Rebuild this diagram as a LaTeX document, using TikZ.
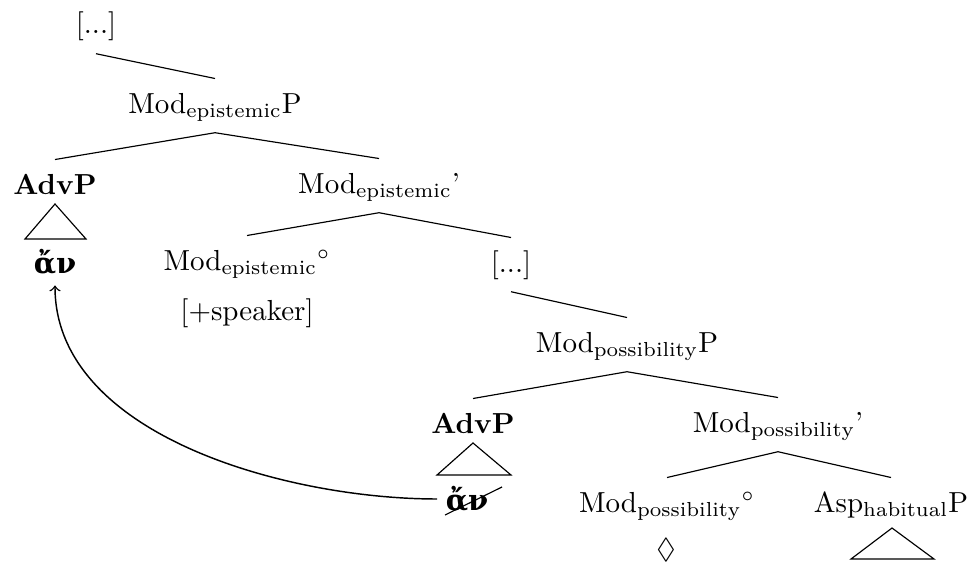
\documentclass[tikz,border=0pt]{standalone}
\usepackage{amssymb}
\usepackage{fontspec}
\newfontfamily\greekfont[Script=Greek]{DejaVu Serif}
\usetikzlibrary{arrows}

\begin{document}
\begin{tikzpicture}[x=0.345pt,y=-0.345pt,
  lbl/.style={inner sep=0pt, text height=11.7pt, text depth=6.6pt, anchor=base},
  grk/.style={inner xsep=2.8pt, inner ysep=0pt, text height=11.7pt, text depth=4.1pt, anchor=base, font=\greekfont\bfseries},
  branch/.style={line width=0.4pt},
  movement/.style={line width=0.5pt, ->}]
\useasboundingbox (0,0) rectangle (971,563);

% upper clause
\node[lbl] (dotsA)   at (96,34)   {[...]};
\node[lbl] (mep)     at (215,113) {Mod$_{\mathrm{epistemic}}$P};
\node[lbl] (advA)    at (55,194)  {\textbf{AdvP}};
\node[lbl] (mepbar)  at (379,193) {Mod$_{\mathrm{epistemic}}$'};
\node[lbl] (mephead) at (247,270) {Mod$_{\mathrm{epistemic}}{}^{\circ}$};
\node[lbl] (speaker) at (247,320) {[+speaker]};
\node[lbl] (dotsB)   at (511,272) {[...]};
\node[grk] (anA)     at (55,273)  {ἄν};

% lower clause
\node[lbl] (mpp)     at (627,352) {Mod$_{\mathrm{possibility}}$P};
\node[lbl] (advB)    at (473,433) {\textbf{AdvP}};
\node[lbl] (mpbar)   at (778,432) {Mod$_{\mathrm{possibility}}$'};
\node[grk] (anB)     at (467,510) {ἄν};
\node[lbl] (mphead)  at (667,512) {Mod$_{\mathrm{possibility}}{}^{\circ}$};
\node[lbl] (asp)     at (891,512) {Asp$_{\mathrm{habitual}}$P};
\node[inner sep=0pt] (dia) at (666,550) {$\lozenge$};

% branches
\draw[branch] (dotsA.south) -- (mep.north);
\draw[branch] (mep.south) -- (advA.north);
\draw[branch] (mep.south) -- (mepbar.north);
\draw[branch] (mepbar.south) -- (mephead.north);
\draw[branch] (mepbar.south) -- (dotsB.north);
\draw[branch] (dotsB.south) -- (mpp.north);
\draw[branch] (mpp.south) -- (advB.north);
\draw[branch] (mpp.south) -- (mpbar.north);
\draw[branch] (mpbar.south) -- (mphead.north);
\draw[branch] (mpbar.south) -- (asp.north);

% roofs over phrasal constituents
\draw[branch] ([shift={(0,10)}]advA.base) -- ++(-30,35) -- ++(61,0) -- cycle;
\draw[branch] ([shift={(0,10)}]advB.base) -- ++(-36,32) -- ++(74,0) -- cycle;
\draw[branch] ([shift={(1,16)}]asp.base) -- ++(-41,31) -- ++(83,0) -- cycle;

% deleted lower copy
\draw[branch] ([shift={(-22,5)}]anB.base) -- ([shift={(35,-23)}]anB.base);

% movement arrow
\draw[movement] (anB.west) .. controls +(-150,0) and +(0,150) .. (anA.south);
\end{tikzpicture}
\end{document}
